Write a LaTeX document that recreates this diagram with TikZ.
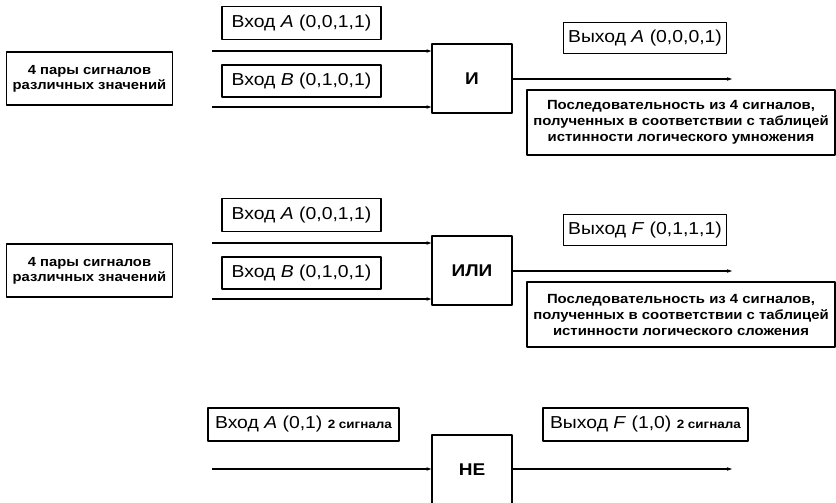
\documentclass[tikz,border=0pt]{standalone}
\usepackage{fontspec}
\setmainfont{Liberation Sans}[FakeStretch=1.12]
\usetikzlibrary{arrows.meta}
\newcommand{\lblfont}{\fontsize{17.3}{20}\selectfont}
\newcommand{\descfont}{\fontsize{13.3}{16}\selectfont\bfseries}
\newcommand{\cntfont}{\fontsize{12}{14}\selectfont\bfseries}
\tikzset{
  inbox/.style={draw, line width=1.3pt, inner sep=2pt, minimum height=33pt, font=\lblfont},
  srcbox/.style={draw, line width=1.3pt, minimum width=166pt, minimum height=53pt, align=center, font=\fontsize{13.2}{15}\selectfont\bfseries},
  gate/.style={draw, line width=1.3pt, minimum width=80pt, minimum height=69pt, font=\fontsize{17}{20}\selectfont\bfseries},
  descbox/.style={draw, line width=1.3pt, minimum width=308pt, minimum height=65pt, inner sep=1pt, align=center, font=\descfont},
  sig/.style={line width=1.2pt, -{Stealth[length=5pt, width=3.5pt]}},
}
\begin{document}
\begin{tikzpicture}[x=1pt, y=-1pt, line join=round]
  \useasboundingbox (0,0) rectangle (836,503);
  % two-input gates
  \foreach \n/\dy/\gname/\ovar/\oval/\op in {1/0/{И}/A/{(0,0,0,1)}/{умножения}, 2/192/{ИЛИ}/F/{(0,1,1,1)}/{сложения}}{
    \begin{scope}[shift={(0,\dy)}]
      \node[srcbox] (src\n) at (89.5,78.5) {4 пары сигналов\\различных значений};
      \node[inbox, minimum width=159pt] (inA\n) at (301.5,23) {Вход \textit{A} (0,0,1,1)};
      \node[inbox, minimum width=159pt, minimum height=32pt] (inB\n) at (301.5,81) {Вход \textit{B} (0,1,0,1)};
      \node[gate] (gate\n) at (472,78.5) {\gname};
      \node[inbox, minimum width=163pt, minimum height=31pt] (out\n) at (645,38) {Выход \textit{\ovar} \oval};
      \node[descbox] (desc\n) at (681,122.5) {Последовательность из 4 сигналов,\\полученных в соответствии с таблицей\\истинности логического \op};
      \coordinate (a\n) at (212,51);
      \coordinate (b\n) at (212,107);
      \coordinate (f\n) at (732,79);
      \draw[sig] (a\n) -- (a\n -| gate\n.west);
      \draw[sig] (b\n) -- (b\n -| gate\n.west);
      \draw[sig] (gate\n.east |- f\n) -- (f\n);
    \end{scope}
  }
  % inverter
  \node[inbox, minimum width=191pt] (inA3) at (303.5,424.5) {Вход \textit{A} (0,1) {\cntfont 2 сигнала}};
  \node[gate] (gate3) at (472,469.5) {НЕ};
  \node[inbox, minimum width=205pt] (out3) at (645.5,424.5) {Выход \textit{F} (1,0) {\cntfont 2 сигнала}};
  \coordinate (a3) at (212,469);
  \coordinate (f3) at (732,469);
  \draw[sig] (a3) -- (a3 -| gate3.west);
  \draw[sig] (gate3.east |- f3) -- (f3);
\end{tikzpicture}
\end{document}
